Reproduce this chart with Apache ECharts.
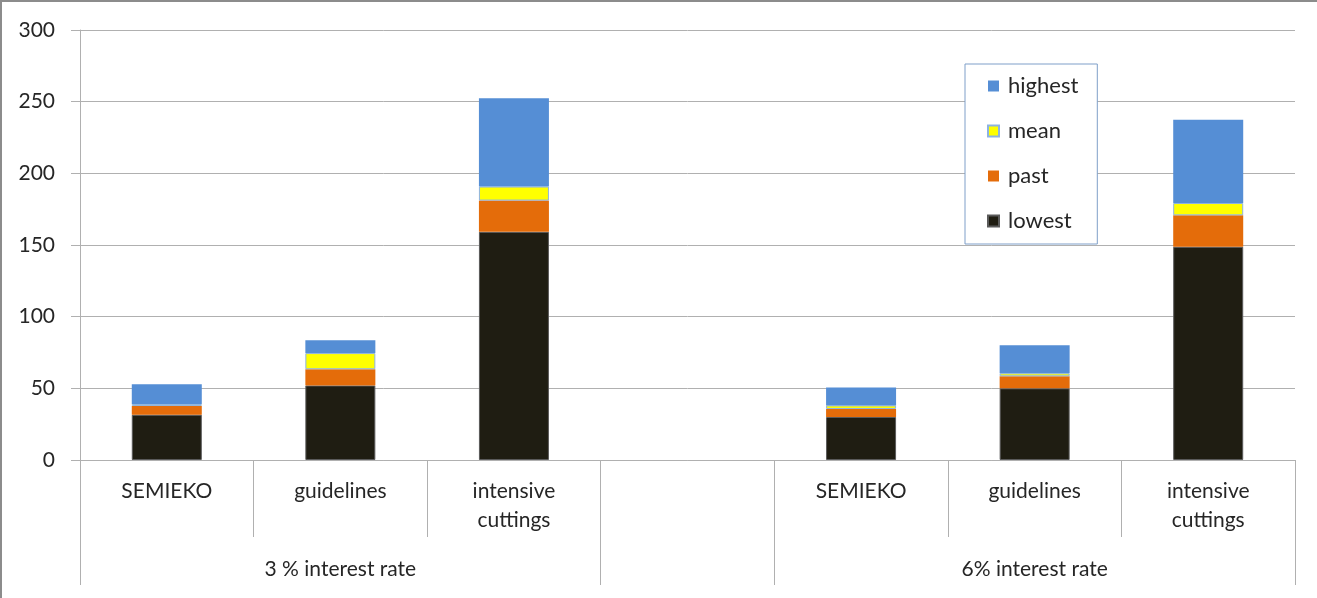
<!DOCTYPE html>
<html>
<head>
<meta charset="utf-8">
<script src="https://cdn.jsdelivr.net/npm/echarts@6/dist/echarts.min.js"></script>
<style>
  html, body { margin: 0; padding: 0; background: #fff; }
  #chart { width: 1317px; height: 598px; box-shadow: inset 2px 2px 0 #8c8c8c; }
</style>
</head>
<body>
<div id="chart"></div>
<script>
// Scenario categories (index 3 is the spacer between the two rate groups)
const categories = ['SEMIEKO', 'guidelines', 'intensive\ncuttings', '', 'SEMIEKO', 'guidelines', 'intensive\ncuttings'];
// Group labels, placed under the middle category of each group
const groupLabels = ['', '3 % interest rate', '', '', '', '6% interest rate', ''];
// Indices where a group starts (its boundary tick)
const groupStarts = [0, 3, 4];

// Stacked segments, bottom to top
const lowest  = [31.6, 52.0, 159.2, null, 30.0, 50.0, 148.8];
const past    = [6.1, 11.3, 21.8, null, 5.6, 8.4, 21.9];
const mean    = [1.4, 11.3, 9.8, null, 2.5, 2.1, 8.6];
const highest = [13.7, 9.0, 61.5, null, 12.4, 19.5, 58.1];

const yTicks = { min: 0, max: 300, interval: 50 };

const textColor = '#262626';
const lineColor = '#b0b0b0';
const font = 'Lato, "Liberation Sans", sans-serif';

const chart = echarts.init(document.getElementById('chart'), null, { renderer: 'canvas' });

function bar(name, data, color, extra) {
  return {
    name: name,
    type: 'bar',
    stack: 'total',
    data: data,
    barWidth: 70,
    xAxisIndex: 0,
    itemStyle: Object.assign({ color: color, borderWidth: 0 }, extra || {}),
    emphasis: { disabled: true }
  };
}

chart.setOption({
  animation: false,
  textStyle: { fontFamily: font, color: textColor },
  grid: { left: 80, right: 22, top: 30, bottom: 138 },
  legend: {
    orient: 'vertical',
    left: 965,
    top: 64,
    data: ['highest', 'mean', 'past', 'lowest'],
    icon: 'rect',
    itemWidth: 11,
    itemHeight: 11,
    itemGap: 23,
    padding: [11, 19, 12, 22],
    borderColor: '#7f9fc9',
    borderWidth: 1,
    backgroundColor: '#fff',
    textStyle: { fontFamily: font, fontSize: 22, color: textColor, lineHeight: 22, padding: [0, 0, 0, 4] }
  },
  xAxis: [
    {
      type: 'category',
      data: categories,
      position: 'bottom',
      axisLine: { show: true, lineStyle: { color: lineColor } },
      axisTick: { show: true, interval: 0, length: 77, lineStyle: { color: lineColor } },
      axisLabel: { interval: 0, margin: 17, fontSize: 21, lineHeight: 29, color: textColor, fontFamily: font },
      splitLine: { show: false }
    },
    {
      type: 'category',
      data: groupLabels,
      position: 'bottom',
      axisLine: { show: false },
      axisTick: {
        show: true,
        length: 125,
        interval: function (index) { return groupStarts.indexOf(index) !== -1; },
        lineStyle: { color: lineColor }
      },
      axisLabel: { interval: 0, margin: 98, fontSize: 21, lineHeight: 22, color: textColor, fontFamily: font },
      splitLine: { show: false }
    }
  ],
  yAxis: {
    type: 'value',
    min: yTicks.min,
    max: yTicks.max,
    interval: yTicks.interval,
    axisLine: { show: true, lineStyle: { color: lineColor } },
    axisTick: { show: true, length: 9, lineStyle: { color: lineColor } },
    axisLabel: { margin: 25, fontSize: 21, color: textColor, fontFamily: font },
    splitLine: { show: true, lineStyle: { color: lineColor, width: 1 } }
  },
  series: [
    bar('lowest', lowest, '#1f1d12', { borderColor: '#5a5a5a', borderWidth: 1 }),
    bar('past', past, '#e46c0a'),
    bar('mean', mean, '#ffff00', { borderColor: '#8db3e2', borderWidth: 1 }),
    bar('highest', highest, '#558ed5')
  ]
});
</script>
</body>
</html>
